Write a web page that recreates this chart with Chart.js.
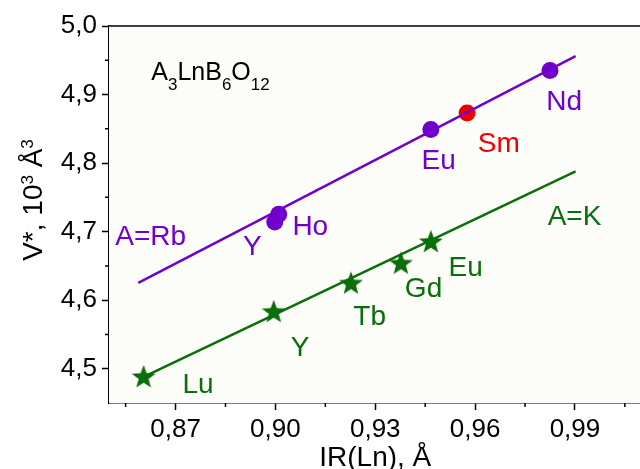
<!DOCTYPE html>
<html>
<head>
<meta charset="utf-8">
<script src="https://cdn.jsdelivr.net/npm/chart.js@4.4.1/dist/chart.umd.min.js"></script>
<style>
  html, body { margin: 0; padding: 0; background: #fff; overflow: hidden; }
  #wrap { width: 640px; height: 469px; overflow: hidden; }
</style>
</head>
<body>
<div id="wrap"><canvas id="chart" width="650" height="469"></canvas></div>
<script>
// ionic radius of Ln (A) vs reduced cell volume V* (10^3 A^3)
var rbIR = [0.8998, 0.9010, 0.9467, 0.9825];      // Y, Ho, Eu, Nd
var rbV  = [4.714, 4.7255, 4.849, 4.935];
var smIR = [0.9576];
var smV  = [4.873];
var rbFitIR = [0.8588, 0.9902];
var rbFitV  = [4.6254, 4.956];

var kIR = [0.8604, 0.8995, 0.9227, 0.9377, 0.9467]; // Lu, Y, Tb, Gd, Eu
var kV  = [4.488, 4.583, 4.6245, 4.6536, 4.685];
var kFitIR = [0.8604, 0.9902];
var kFitV  = [4.488, 4.788];

var xTicks = [0.87, 0.90, 0.93, 0.96, 0.99];
var xMinor = [0.855, 0.885, 0.915, 0.945, 0.975, 1.005];
var yTicks = [4.5, 4.6, 4.7, 4.8, 4.9, 5.0];
var yMinor = [4.55, 4.65, 4.75, 4.85, 4.95];

var PURPLE = "#7000cc";
var RED = "#ee0000";
var GREEN = "#0a6e0a";
var FONT = "'Liberation Sans', Arial, sans-serif";

// point labels (data coords of text start / baseline)
var labels = [
    {t: "A=Rb", x: 0.8519, y: 4.680, c: PURPLE},
    {t: "Y",    x: 0.8903, y: 4.6657, c: PURPLE},
    {t: "Ho",   x: 0.9051, y: 4.695, c: PURPLE},
    {t: "Eu",   x: 0.9439, y: 4.792, c: PURPLE},
    {t: "Sm",   x: 0.9608, y: 4.8164, c: RED},
    {t: "Nd",   x: 0.9814, y: 4.877, c: PURPLE},
    {t: "A=K",  x: 0.9818, y: 4.7095, c: GREEN},
    {t: "Lu",   x: 0.8721, y: 4.464, c: GREEN},
    {t: "Y",    x: 0.9046, y: 4.5185, c: GREEN},
    {t: "Tb",   x: 0.9234, y: 4.5637, c: GREEN},
    {t: "Gd",   x: 0.9389, y: 4.605, c: GREEN},
    {t: "Eu",   x: 0.952, y: 4.6356, c: GREEN}
];

function pts(xs, ys) {
    return xs.map(function (x, i) { return {x: x, y: ys[i]}; });
}

function makeStar(color) {
    var c = document.createElement("canvas");
    c.width = 26; c.height = 26;
    var g = c.getContext("2d");
    g.beginPath();
    for (var i = 0; i < 10; i++) {
        var r = (i % 2 === 0) ? 12.5 : 5.2;
        var a = -Math.PI / 2 + i * Math.PI / 5;
        var px = 13 + r * Math.cos(a), py = 13.5 + r * Math.sin(a);
        if (i === 0) g.moveTo(px, py); else g.lineTo(px, py);
    }
    g.closePath();
    g.fillStyle = color;
    g.fill();
    return c;
}

var decor = {
    id: "decor",
    beforeDatasetsDraw: function (chart) {
        var ctx = chart.ctx, a = chart.chartArea;
        ctx.save();
        ctx.fillStyle = "#fcfcf8";
        ctx.fillRect(a.left, a.top, a.right - a.left, a.bottom - a.top);
        ctx.restore();
    },
    afterDraw: function (chart) {
        var ctx = chart.ctx, a = chart.chartArea;
        var xs = chart.scales.x, ys = chart.scales.y;
        ctx.save();
        // top border
        ctx.strokeStyle = "#000";
        ctx.lineWidth = 1.5;
        ctx.beginPath();
        ctx.moveTo(a.left, a.top);
        ctx.lineTo(a.right, a.top);
        ctx.stroke();
        // minor ticks
        ctx.lineWidth = 1.5;
        ctx.beginPath();
        xMinor.forEach(function (v) {
            var p = xs.getPixelForValue(v);
            ctx.moveTo(p, a.bottom);
            ctx.lineTo(p, a.bottom + 4);
        });
        yMinor.forEach(function (v) {
            var p = ys.getPixelForValue(v);
            ctx.moveTo(a.left, p);
            ctx.lineTo(a.left - 4, p);
        });
        ctx.stroke();

        // labels
        ctx.font = "28px " + FONT;
        ctx.textBaseline = "alphabetic";
        ctx.textAlign = "left";
        labels.forEach(function (l) {
            ctx.fillStyle = l.c;
            ctx.fillText(l.t, xs.getPixelForValue(l.x), ys.getPixelForValue(l.y));
        });

        // formula A3LnB6O12
        var fx = xs.getPixelForValue(0.8627), fy = ys.getPixelForValue(4.921);
        var parts = [["A", 0], ["3", 1], ["LnB", 0], ["6", 1], ["O", 0], ["12", 1]];
        ctx.fillStyle = "#000";
        parts.forEach(function (p) {
            ctx.font = (p[1] ? "17px " : "25px ") + FONT;
            ctx.fillText(p[0], fx, fy + (p[1] ? 10 : 0));
            fx += ctx.measureText(p[0]).width;
        });

        // x title
        ctx.font = "28px " + FONT;
        ctx.textAlign = "center";
        ctx.fillText("IR(Ln), \u00C5", (a.left + a.right) / 2, 466);

        // y title (rotated)
        ctx.translate(42, 200);
        ctx.rotate(-Math.PI / 2);
        var yparts = [["V*, 10", 0], ["3", 1], [" \u00C5", 0], ["3", 1]];
        var total = 0;
        yparts.forEach(function (p) {
            ctx.font = (p[1] ? "17px " : "28px ") + FONT;
            total += ctx.measureText(p[0]).width;
        });
        var u = -total / 2;
        ctx.textAlign = "left";
        yparts.forEach(function (p) {
            ctx.font = (p[1] ? "17px " : "28px ") + FONT;
            ctx.fillText(p[0], u, p[1] ? -9 : 0);
            u += ctx.measureText(p[0]).width;
        });
        ctx.restore();
    }
};

var star = makeStar(GREEN);

new Chart(document.getElementById("chart"), {
    type: "scatter",
    data: {
        datasets: [
            {data: pts(rbFitIR, rbFitV), showLine: true, borderColor: PURPLE, borderWidth: 2.5, pointRadius: 0, order: 2},
            {data: pts(kFitIR, kFitV), showLine: true, borderColor: GREEN, borderWidth: 2.5, pointRadius: 0, order: 2},
            {data: pts(smIR, smV), pointStyle: "circle", pointRadius: 8.5, backgroundColor: RED, borderWidth: 0, order: 3},
            {data: pts(rbIR, rbV), pointStyle: "circle", pointRadius: 8.5, backgroundColor: PURPLE, borderWidth: 0, order: 1},
            {data: pts(kIR, kV), pointStyle: star, backgroundColor: GREEN, borderWidth: 0, order: 1}
        ]
    },
    options: {
        responsive: false,
        animation: false,
        layout: {padding: {top: 26, left: 0, right: 0, bottom: 0}},
        plugins: {
            legend: {display: false},
            tooltip: {enabled: false}
        },
        scales: {
            x: {
                type: "linear",
                min: 0.85,
                max: 1.01,
                afterBuildTicks: function (s) { s.ticks = xTicks.map(function (v) { return {value: v}; }); },
                afterFit: function (s) { s.height = 66; },
                border: {display: true, color: "#000", width: 1.5},
                grid: {drawOnChartArea: false, drawTicks: true, tickLength: 7, tickColor: "#000", tickWidth: 1.5},
                ticks: {
                    color: "#000",
                    padding: 4,
                    maxRotation: 0,
                    font: {family: FONT, size: 26},
                    callback: function (v) { return v.toFixed(2).replace(".", ","); }
                }
            },
            y: {
                type: "linear",
                min: 4.45,
                max: 5.0,
                afterBuildTicks: function (s) { s.ticks = yTicks.map(function (v) { return {value: v}; }); },
                afterFit: function (s) { s.width = 109; },
                border: {display: true, color: "#000", width: 1.5},
                grid: {drawOnChartArea: false, drawTicks: true, tickLength: 7, tickColor: "#000", tickWidth: 1.5},
                ticks: {
                    color: "#000",
                    padding: 5,
                    font: {family: FONT, size: 26},
                    callback: function (v) { return v.toFixed(1).replace(".", ","); }
                }
            }
        }
    },
    plugins: [decor]
});
</script>
</body>
</html>
